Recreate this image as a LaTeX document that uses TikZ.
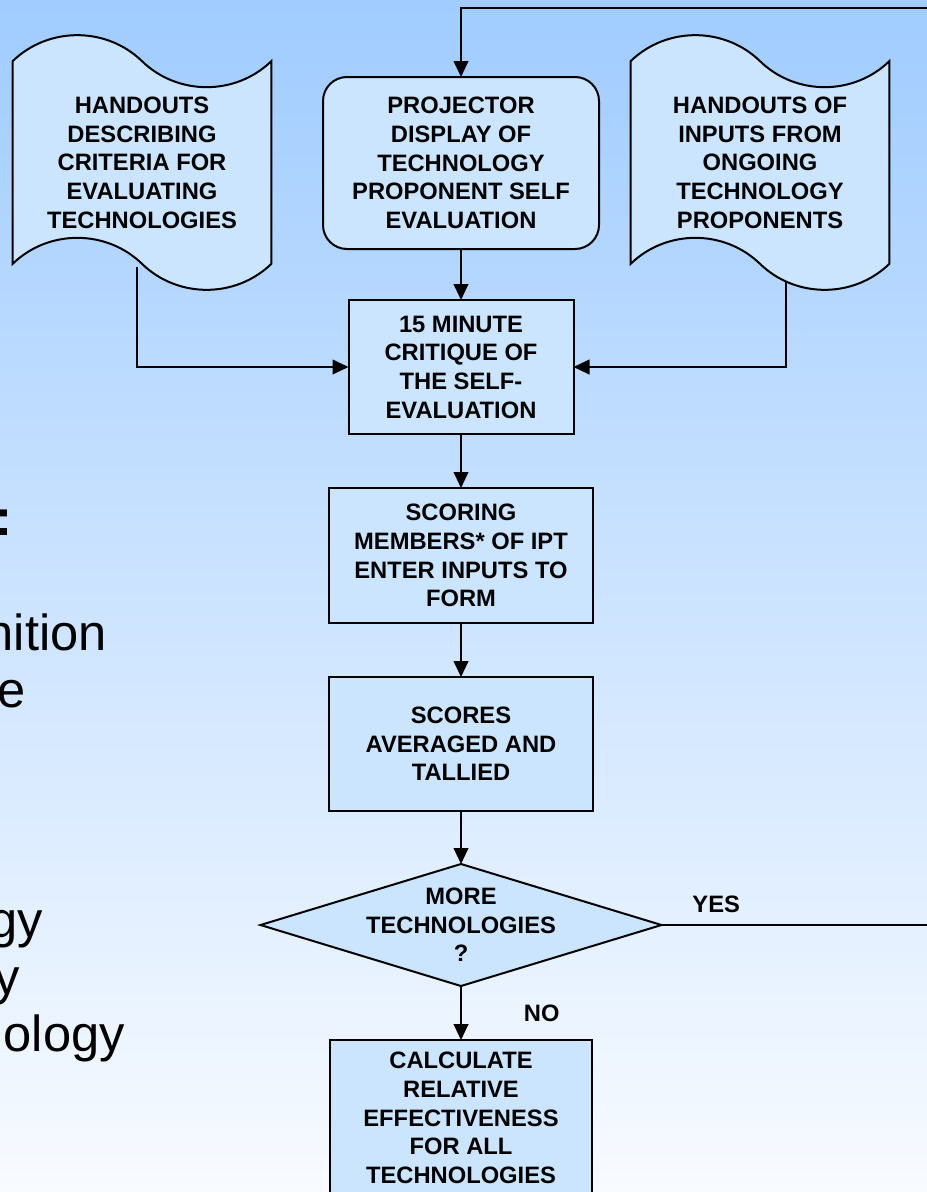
\documentclass[tikz,border=0pt]{standalone}
\usepackage{fontspec}
\setmainfont{Liberation Sans}
\usetikzlibrary{shapes.geometric, shapes.symbols, arrows.meta, positioning, calc}
\definecolor{bgtop}{RGB}{160,204,255}
\definecolor{bgbot}{RGB}{248,251,255}
\definecolor{boxfill}{RGB}{204,229,255}
\tikzstyle{arrow} = [line width=1.5pt, -{Triangle[length=12pt,width=11pt]}]

\begin{document}
\begin{tikzpicture}[x=0.75pt, y=-0.75pt,
      txt/.style={font=\fontsize{17.8}{21.5}\selectfont\bfseries, align=center},
      lbl/.style={txt, inner sep=0pt},
      slide/.style={font=\fontsize{38}{43}\selectfont, inner sep=0pt, anchor=base east},
      proc/.style={rectangle, draw=black, line width=1.5pt, fill=boxfill, outer sep=0pt, txt},
      handout/.style={tape, draw=black, line width=1.5pt, fill=boxfill, outer sep=0pt, txt,
        tape bend top=out and in, tape bend bottom=out and in, tape bend height=39pt,
        minimum width=194pt, minimum height=191pt},
      decision/.style={diamond, draw=black, line width=1.5pt, fill=boxfill, inner sep=0pt,
        outer sep=0pt, minimum width=300.75pt, minimum height=91.5pt},
    ]

    % Background
    \useasboundingbox (0,0) rectangle (927,1192);
    \clip (0,0) rectangle (927,1192);
    \shade[top color=bgtop, bottom color=bgbot] (0,0) rectangle (927,1192);

    % Slide text behind the chart
    \node[slide, font=\fontsize{38}{43}\selectfont\bfseries] (colon) at (13,535) {:};
    \node[slide] (t1) at (107,650) {nition};
    \node[slide] (t2) at (26,707) {e};
    \node[slide] (t3) at (43,937) {gy};
    \node[slide] (t4) at (20,994) {y};
    \node[slide] (t5) at (125,1051) {ology};

    % Inputs
    \node[proc, rounded corners=18pt, minimum width=207pt, minimum height=129pt] (P) at (461,163)
      {PROJECTOR\\DISPLAY OF\\TECHNOLOGY\\PROPONENT SELF\\EVALUATION};
    \node[handout] (L) at (142,162.5)
      {HANDOUTS\\DESCRIBING\\CRITERIA FOR\\EVALUATING\\TECHNOLOGIES};
    \node[handout] (R) at (760,162.5)
      {HANDOUTS OF\\INPUTS FROM\\ONGOING\\TECHNOLOGY\\PROPONENTS};

    % Main flow
    \node[proc, minimum width=168.75pt, minimum height=100.5pt, below=38.25pt of P] (C)
      {15 MINUTE\\CRITIQUE OF\\THE SELF-\\EVALUATION};
    \node[proc, minimum width=198pt, minimum height=101.25pt, below=40.5pt of C] (S)
      {SCORING\\MEMBERS* OF IPT\\ENTER INPUTS TO\\FORM};
    \node[proc, minimum width=198pt, minimum height=100.5pt, below=40.5pt of S] (T)
      {SCORES\\AVERAGED AND\\TALLIED};
    \node[decision, below=39.75pt of T] (D) {};
    \node[lbl] (Dtxt) at (D) {MORE\\TECHNOLOGIES\\?};
    \node[proc, minimum width=196.5pt, minimum height=117pt, below=40.5pt of D] (E)
      {CALCULATE\\RELATIVE\\EFFECTIVENESS\\FOR ALL\\TECHNOLOGIES};

    % Edges
    \coordinate (loop) at (945,8);
    \draw[arrow] (P) -- (C);
    \draw[arrow] (C) -- (S);
    \draw[arrow] (S) -- (T);
    \draw[arrow] (T) -- (D);
    \draw[arrow] (D) -- (E);
    \draw[arrow] ([xshift=-3.75pt, yshift=-2pt]L.south) |- (C.west);
    \draw[arrow] ([xshift=19.5pt, yshift=-13pt]R.south) |- (C.east);
    \draw[arrow] (D.east) -| (loop) -| (P.north);

    % Branch labels
    \node[lbl, above right=9pt and 23pt of D.east] (yes) {YES};
    \path (D.south) -- (E.north) node[lbl, pos=0.5, right=47pt] (no) {NO};

  \end{tikzpicture}
\end{document}
